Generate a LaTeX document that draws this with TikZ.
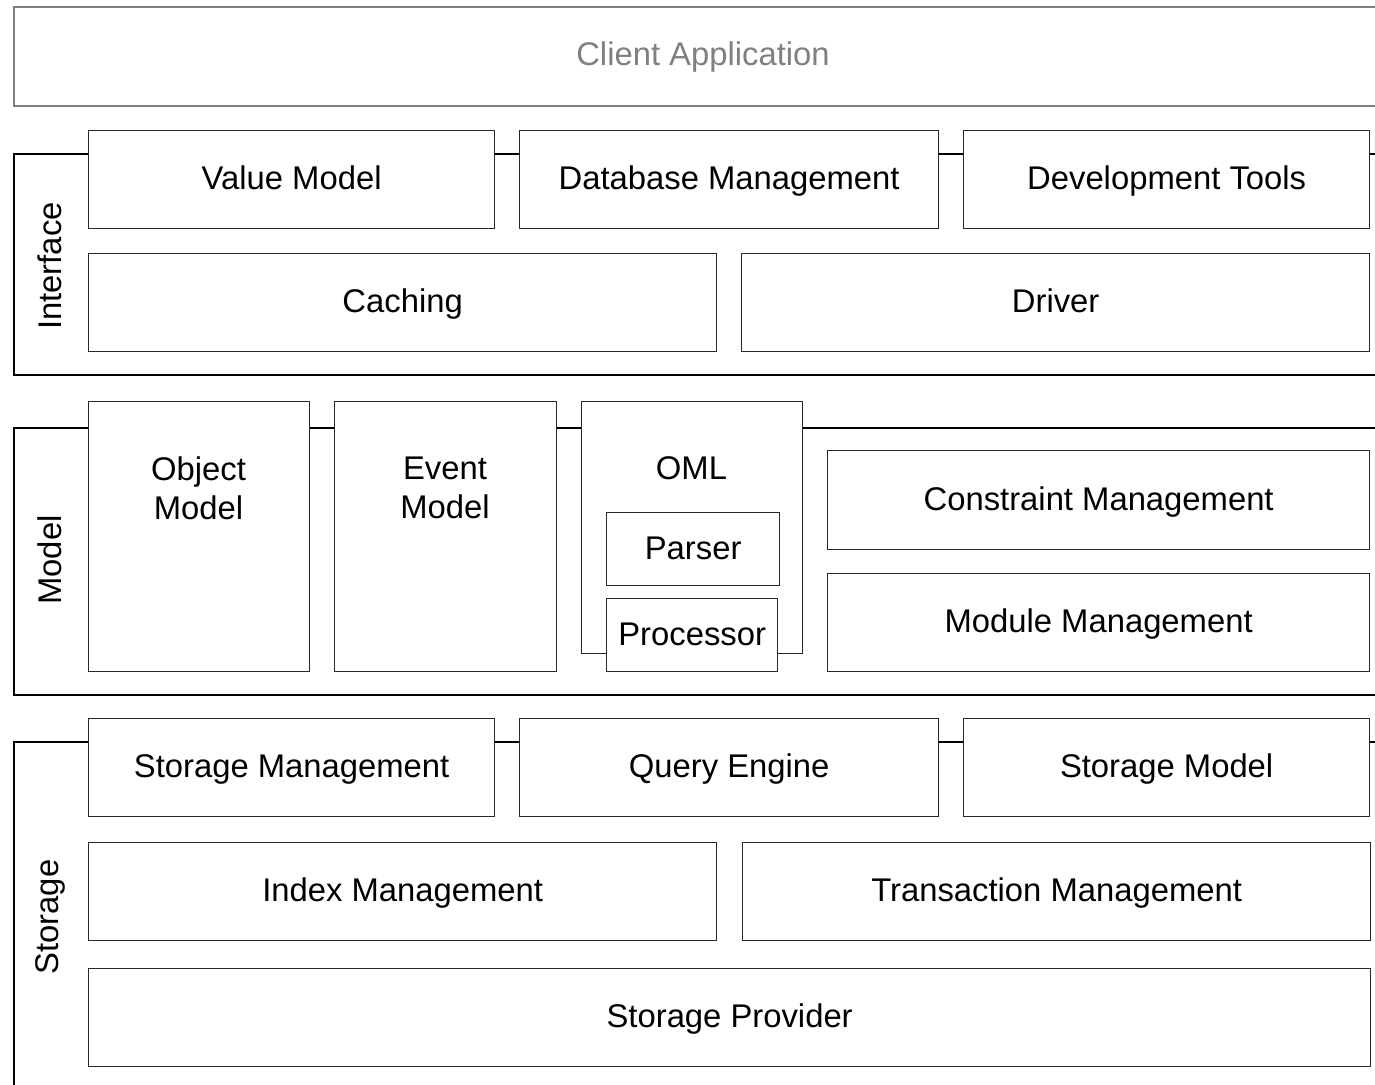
\documentclass[tikz,border=0pt]{standalone}
\usepackage{fontspec}
\setmainfont{Liberation Sans}

\definecolor{clientgray}{RGB}{128,128,128}
\definecolor{boxline}{RGB}{40,40,40}
\tikzstyle{comp} = [draw=boxline, line width=0.65pt, fill=white, anchor=north west, inner sep=0pt, align=center, text height=13.6pt, text depth=3.4pt, font=\fontsize{16.4}{19.6}\selectfont]

\begin{document}
\begin{tikzpicture}[x=0.5pt,y=-0.5pt,
			wh/.style 2 args = {minimum width=#1*0.5pt, minimum height=#2*0.5pt},
			layer/.style = {draw, line width=1.1pt},
			tag/.style = {rotate=90, font=\fontsize{16.4}{19.6}\selectfont},
			txt/.style = {align=center, inner sep=0pt, font=\fontsize{16.4}{19.6}\selectfont}]
			\useasboundingbox (0,0) rectangle (1375,1085);
			\clip (0,0) rectangle (1375,1085);
			
			% client on top
			\node (client)[comp, draw=clientgray, line width=1pt, text=clientgray, wh={1400}{99}] at (13,6) {};
			\node (clienttxt)[txt, text=clientgray] at (703,57) {Client Application};
			
			% layer frames
			\draw[layer] (1400,154) -- (14,154) -- (14,375) -- (1400,375);
			\draw[layer] (1400,428) -- (14,428) -- (14,695) -- (1400,695);
			\draw[layer] (1400,742) -- (14,742) -- (14,1100);
			
			\node (iface)[tag] at (50,266) {Interface};
			\node (model)[tag] at (50,560) {Model};
			\node (storage)[tag] at (50,917) {Storage};
			
			% interface
			\node (value)[comp, wh={406}{98}] at (88,130) {Value Model};
			\node (dbm)[comp, wh={419}{98}] at (519,130) {Database Management};
			\node (dev)[comp, wh={406}{98}] at (963,130) {Development Tools};
			\node (cache)[comp, wh={628}{98}] at (88,253) {Caching};
			\node (driver)[comp, wh={628}{98}] at (741,253) {Driver};
			
			% model
			\node (objm)[comp, wh={221}{270}] at (88,401) {};
			\node (objmtxt)[txt] at (198.5,488) {Object\\Model};
			\node (evm)[comp, wh={222}{270}] at (334,401) {};
			\node (evmtxt)[txt] at (445,488) {Event\\Model};
			\node (oml)[comp, wh={221}{252}] at (581,401) {};
			\node (omltxt)[txt] at (691.5,468) {OML};
			\node (parser)[comp, wh={173}{73}] at (606,512) {Parser};
			\node (proc)[comp, wh={171}{73}] at (606,598) {Processor};
			\node (cons)[comp, wh={542}{99}] at (827,450) {Constraint Management};
			\node (modm)[comp, wh={542}{98}] at (827,573) {Module Management};
			
			% storage
			\node (stm)[comp, wh={406}{98}] at (88,718) {Storage Management};
			\node (query)[comp, wh={419}{98}] at (519,718) {Query Engine};
			\node (stmodel)[comp, wh={406}{98}] at (963,718) {Storage Model};
			\node (index)[comp, wh={628}{98}] at (88,842) {Index Management};
			\node (trans)[comp, wh={628}{98}] at (742,842) {Transaction Management};
			\node (prov)[comp, wh={1282}{98}] at (88,968) {Storage Provider};
		\end{tikzpicture}
\end{document}
